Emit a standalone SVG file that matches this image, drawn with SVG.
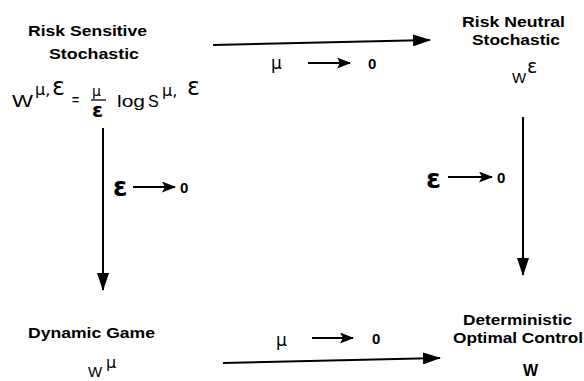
<svg xmlns="http://www.w3.org/2000/svg" width="584" height="381" viewBox="0 0 584 381">
<style>
.t{font-family:"Liberation Sans",Arial,sans-serif;fill:#000}
.g{font-family:"DejaVu Sans","Liberation Sans",sans-serif;fill:#000}
.b{font-weight:bold;font-size:15px}
.m{font-size:16px}
.z{font-family:"Liberation Sans",Arial,sans-serif;font-weight:bold;font-size:15px;fill:#000}
.ln{stroke:#000;stroke-width:2;fill:none}
</style>
<defs>
<marker id="ah" viewBox="0 0 18 12" refX="17" refY="6" markerWidth="18" markerHeight="12" markerUnits="userSpaceOnUse" orient="auto">
<path d="M0,0 L18,6 L0,12 z" fill="#000"/>
</marker>
<marker id="sh" viewBox="0 0 14 11" refX="13" refY="5.5" markerWidth="14" markerHeight="11" markerUnits="userSpaceOnUse" orient="auto">
<path d="M0,0 L14,5.5 L0,11 L3,5.5 z" fill="#000"/>
</marker>
</defs>
<rect width="584" height="381" fill="#fff"/>
<g id="connectors">
<line class="ln" x1="213" y1="45" x2="430" y2="40" marker-end="url(#ah)"/>
<line class="ln" x1="103" y1="128" x2="103" y2="290" marker-end="url(#ah)"/>
<line class="ln" x1="523" y1="117" x2="523" y2="275" marker-end="url(#ah)"/>
<line class="ln" x1="223" y1="363" x2="440" y2="358" marker-end="url(#ah)"/>
<g id="label-top">
<text class="g" x="271" y="69" font-size="17">μ</text>
<line class="ln" x1="308" y1="63" x2="350" y2="63" marker-end="url(#sh)"/>
<text class="z" x="368" y="69">0</text>
</g>
<g id="label-left">
<text class="g" x="113" y="196" font-size="26" font-weight="bold">ε</text>
<line class="ln" x1="133" y1="187" x2="175" y2="187" marker-end="url(#sh)"/>
<text class="z" x="180" y="193">0</text>
</g>
<g id="label-right">
<text class="g" x="426" y="188" font-size="27" font-weight="bold">ε</text>
<line class="ln" x1="448" y1="177" x2="492" y2="177" marker-end="url(#sh)"/>
<text class="z" x="497" y="183">0</text>
</g>
<g id="label-bottom">
<text class="g" x="276" y="346" font-size="17">μ</text>
<line class="ln" x1="312" y1="338" x2="353" y2="338" marker-end="url(#sh)"/>
<text class="z" x="372" y="344">0</text>
</g>
</g>
<g id="node-risk-sensitive">
<text class="t b" x="28" y="36" textLength="119" lengthAdjust="spacingAndGlyphs">Risk Sensitive</text>
<text class="t b" x="49" y="59" textLength="90" lengthAdjust="spacingAndGlyphs">Stochastic</text>
<text class="t" x="12" y="107" font-size="17" textLength="21" lengthAdjust="spacingAndGlyphs">W</text>
<text class="g" x="35" y="95" font-size="16">μ,</text>
<text class="g" x="52" y="95" font-size="24">ε</text>
<text class="t" x="72" y="104" font-size="12" font-weight="bold">=</text>
<text class="g" x="92" y="96" font-size="14">μ</text>
<line x1="91" y1="100" x2="106" y2="100" stroke="#000" stroke-width="1.3"/>
<text class="g" x="92" y="117" font-size="20" font-weight="bold">ε</text>
<text class="t m" x="117" y="107" textLength="28" lengthAdjust="spacingAndGlyphs">log</text>
<text class="t m" x="148" y="107">S</text>
<text class="g" x="162" y="96" font-size="16">μ,</text>
<text class="g" x="187" y="95" font-size="24">ε</text>
</g>
<g id="node-risk-neutral">
<text class="t b" x="462" y="27" textLength="103" lengthAdjust="spacingAndGlyphs">Risk Neutral</text>
<text class="t b" x="472" y="45" textLength="88" lengthAdjust="spacingAndGlyphs">Stochastic</text>
<text class="t" x="512" y="83" font-size="15">W</text>
<text class="g" x="527" y="73" font-size="19">ε</text>
</g>
<g id="node-dynamic-game">
<text class="t b" x="28" y="338" textLength="127" lengthAdjust="spacingAndGlyphs">Dynamic Game</text>
<text class="t" x="88" y="377" font-size="15">W</text>
<text class="g" x="106" y="368" font-size="16">μ</text>
</g>
<g id="node-deterministic">
<text class="t b" x="463" y="325" textLength="109" lengthAdjust="spacingAndGlyphs">Deterministic</text>
<text class="t b" x="453" y="343" textLength="130" lengthAdjust="spacingAndGlyphs">Optimal Control</text>
<text class="t" x="523" y="376" font-size="16" font-weight="bold">W</text>
</g>
</svg>
